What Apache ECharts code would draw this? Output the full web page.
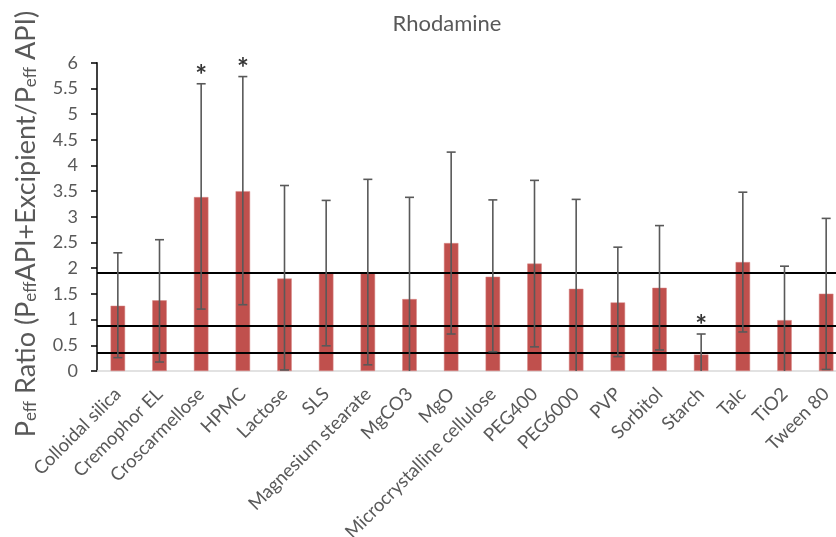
<!DOCTYPE html>
<html>
<head>
<meta charset="utf-8">
<script src="https://cdn.jsdelivr.net/npm/echarts@6/dist/echarts.min.js"></script>
<style>html,body{margin:0;padding:0;background:#fff;}#c{width:836px;height:537px;}</style>
</head>
<body>
<div id="c"></div>
<script>
const categories = ['Colloidal silica','Cremophor EL','Croscarmellose','HPMC','Lactose','SLS','Magnesium stearate','MgCO3','MgO','Microcrystalline cellulose','PEG400','PEG6000','PVP','Sorbitol','Starch','Talc','TiO2','Tween 80'];
const ratios   = [1.27, 1.375, 3.385, 3.50, 1.80, 1.91, 1.91, 1.40, 2.49, 1.835, 2.09, 1.60, 1.335, 1.62, 0.32, 2.12, 0.99, 1.505];
const errUpper = [2.30, 2.555, 5.59, 5.73, 3.61, 3.32, 3.73, 3.38, 4.26, 3.33, 3.71, 3.34, 2.41, 2.83, 0.72, 3.48, 2.04, 2.97];
const errLower = [0.26, 0.175, 1.205, 1.29, 0.02, 0.49, 0.12, -0.58, 0.72, 0.375, 0.47, -0.14, 0.28, 0.41, -0.08, 0.76, -0.06, 0.03];
const significant = ['Croscarmellose','HPMC','Starch'];
const refLines = [1.91, 0.88, 0.36];
const yTicks = [0,0.5,1,1.5,2,2.5,3,3.5,4,4.5,5,5.5,6];

const chart = echarts.init(document.getElementById('c'));
const FONT = 'Lato';
const errData = categories.map((c,i)=>[i, errLower[i], errUpper[i]]);
const starData = categories.map((c,i)=> significant.includes(c) ? [i, errUpper[i]] : null).filter(d=>d);

chart.setOption({
  animation:false,
  grid:{left:97, top:62.7, height:308.3, width:750, containLabel:false, outerBoundsMode:'none'},
  xAxis:{type:'category', data:categories,
    axisLine:{lineStyle:{color:'#d9d9d9', width:1.5}}, axisTick:{show:false},
    axisLabel:{rotate:45, interval:0, fontFamily:FONT, fontSize:18.5, color:'#595959', margin:20}},
  yAxis:{type:'value', min:0, max:6, interval:0.5,
    axisLine:{show:true, lineStyle:{color:'#000', width:1.5}},
    axisTick:{show:true, length:6, lineStyle:{color:'#000', width:1.5}},
    splitLine:{show:false},
    axisLabel:{fontFamily:FONT, fontSize:18, color:'#595959', margin:19,
      formatter:v=> yTicks.includes(v) ? String(v) : ''}},
  graphic:[
    {type:'text', x:447, y:24, style:{text:'Rhodamine', align:'center', verticalAlign:'middle', fontFamily:FONT, fontSize:22, fill:'#595959'}},
    {type:'text', x:26, y:224, rotation:Math.PI/2,
    style:{text:'{p|P}{s|eff}{p| Ratio (P}{s|eff}{p|API+Excipient/P}{s|eff}{p| API)}', align:'center', verticalAlign:'middle',
      rich:{p:{fontFamily:FONT, fontSize:27, fill:'#595959'}, s:{fontFamily:FONT, fontSize:17, fill:'#595959', verticalAlign:'bottom', padding:[10,0,0,0]}},
    }}],
  series:[
    {type:'bar', data:ratios, barWidth:14.5, itemStyle:{color:'#C0504D', borderColor:'#D98A88', borderWidth:0.5},
      markLine:{silent:true, symbol:'none', label:{show:false}, lineStyle:{color:'#000', width:2, type:'solid'},
        data: refLines.map(v=>({yAxis:v}))}},
    {type:'custom', data:errData, z:5,
      renderItem:(params, api)=>{
        const x = api.value(0);
        const lo = api.coord([x, Math.max(api.value(1),0)]);
        const hiRaw = api.value(1);
        const hi = api.coord([x, api.value(2)]);
        const hw = 4.5;
        const st = {stroke:'#595959', lineWidth:1.6};
        const children = [{type:'line', shape:{x1:hi[0],y1:hi[1],x2:lo[0],y2:lo[1]}, style:st}];
        children.push({type:'line', shape:{x1:hi[0]-hw,y1:hi[1],x2:hi[0]+hw,y2:hi[1]}, style:st});
        if (hiRaw >= 0) children.push({type:'line', shape:{x1:lo[0]-hw,y1:lo[1],x2:lo[0]+hw,y2:lo[1]}, style:st});
        return {type:'group', children};
      }},
    {type:'scatter', data:starData, symbolSize:0, z:6,
      label:{show:true, formatter:'*', position:'top', distance:-6, fontFamily:FONT, fontSize:28, fontWeight:'bold', color:'#000'}}
  ]
});
</script>
</body>
</html>
